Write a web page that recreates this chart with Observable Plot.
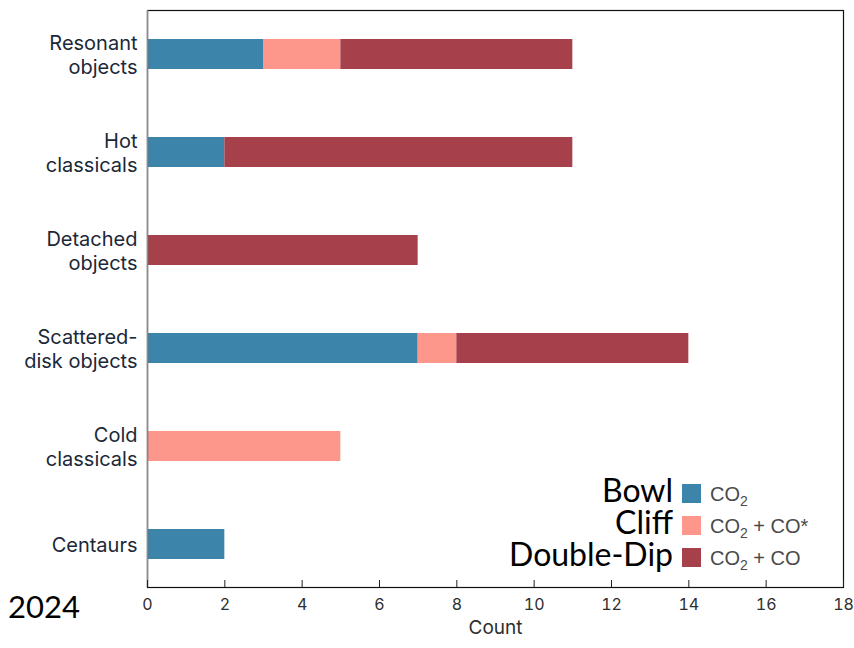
<!DOCTYPE html>
<html>
<head>
<meta charset="utf-8">
<script src="https://cdn.jsdelivr.net/npm/d3@7"></script>
<script src="https://cdn.jsdelivr.net/npm/@observablehq/plot@0.6"></script>
<style>
  html, body { margin: 0; padding: 0; background: #fff; }
  #chart { position: relative; width: 854px; height: 648px; }
</style>
</head>
<body>
<div id="chart"></div>
<script>
// Object populations, top to bottom
const groups = [
  "Resonant\nobjects",
  "Hot\nclassicals",
  "Detached\nobjects",
  "Scattered-\ndisk objects",
  "Cold\nclassicals",
  "Centaurs"
];

// Spectral types (stack order) and their colours
const types = ["CO2", "CO2 + CO*", "CO2 + CO"];
const typeColors = ["#3d84ab", "#fd968b", "#a6414c"];
const typeNames = ["Bowl", "Cliff", "Double-Dip"];

// Counts per population for each type
const countCO2      = [3, 2, 0, 7, 0, 2];
const countCO2COx   = [2, 0, 0, 1, 5, 0];
const countCO2CO    = [6, 9, 7, 6, 0, 0];

const xTicks = [0, 2, 4, 6, 8, 10, 12, 14, 16, 18];

const seriesByType = [countCO2, countCO2COx, countCO2CO];
const rows = [];
groups.forEach((g, i) => {
  types.forEach((t, j) => rows.push({group: g, type: t, count: seriesByType[j][i]}));
});

const W = 854, H = 648;
const mTop = 10, mRight = 11, mBottom = 61, mLeft = 147;
const uiFont = "Inter, Lato, sans-serif";

const plot = Plot.plot({
  width: W,
  height: H,
  marginTop: mTop,
  marginRight: mRight,
  marginBottom: mBottom,
  marginLeft: mLeft,
  style: {background: "#fff", overflow: "visible"},
  x: {domain: [0, 18], ticks: xTicks},
  y: {domain: groups, paddingInner: 0.697, paddingOuter: 0.263},
  color: {domain: types, range: typeColors},
  marks: [
    Plot.barX(rows, {y: "group", x: "count", fill: "type", order: types, inset: 0}),
    Plot.frame({stroke: "#111", strokeWidth: 1.2}),
    Plot.ruleX([0], {stroke: "#8a8a8a", strokeWidth: 1.5}),
    Plot.tickX(xTicks, {x: d => d, stroke: "#222", insetTop: H - mTop - mBottom - 7}),
    Plot.axisX({
      ticks: xTicks, tickSize: 0, tickPadding: 11,
      fontSize: 16, fill: "#2e2e2e", fontFamily: uiFont,
      label: "Count", labelAnchor: "center", labelOffset: 46, labelArrow: false
    }),
    Plot.axisY({
      tickSize: 0, tickPadding: 10, fontSize: 20, lineHeight: 1.17,
      fill: "#1b2838", fontFamily: uiFont, label: null
    })
  ]
});

document.getElementById("chart").appendChild(plot);

const svg = d3.select(plot);

// Axis title styling
svg.selectAll("[aria-label='x-axis label'] text")
  .attr("font-size", 19)
  .attr("fill", "#2e2e2e")
  .attr("font-family", uiFont);

// Legend: swatches, chemical labels and type names
const leg = svg.append("g");
const legX = 682, legY0 = 484, legStep = 32, sw = 19;
types.forEach((t, i) => {
  const y = legY0 + i * legStep;
  leg.append("rect")
    .attr("x", legX).attr("y", y).attr("width", sw).attr("height", sw)
    .attr("fill", typeColors[i]);
  const lbl = leg.append("text")
    .attr("x", legX + 28).attr("y", y + 17)
    .attr("text-anchor", "start")
    .attr("font-family", "'Liberation Sans', Arial, sans-serif")
    .attr("font-size", 20).attr("fill", "#4a4a4a");
  lbl.append("tspan").text("CO");
  lbl.append("tspan").attr("dy", 5).attr("font-size", 14).text("2");
  if (i > 0) {
    lbl.append("tspan").attr("dy", -5).text(" + CO" + (i === 1 ? "*" : ""));
  }
  leg.append("text")
    .attr("x", 673).attr("y", y + 18)
    .attr("text-anchor", "end")
    .attr("font-family", "Lato, 'Open Sans', sans-serif")
    .attr("font-size", 32).attr("fill", "#000")
    .text(typeNames[i]);
});

// Year tag
svg.append("text")
  .attr("x", 8).attr("y", 618)
  .attr("text-anchor", "start")
  .attr("font-family", "Lato, 'Open Sans', sans-serif")
  .attr("font-size", 31).attr("fill", "#000")
  .text("2024");
</script>
</body>
</html>
